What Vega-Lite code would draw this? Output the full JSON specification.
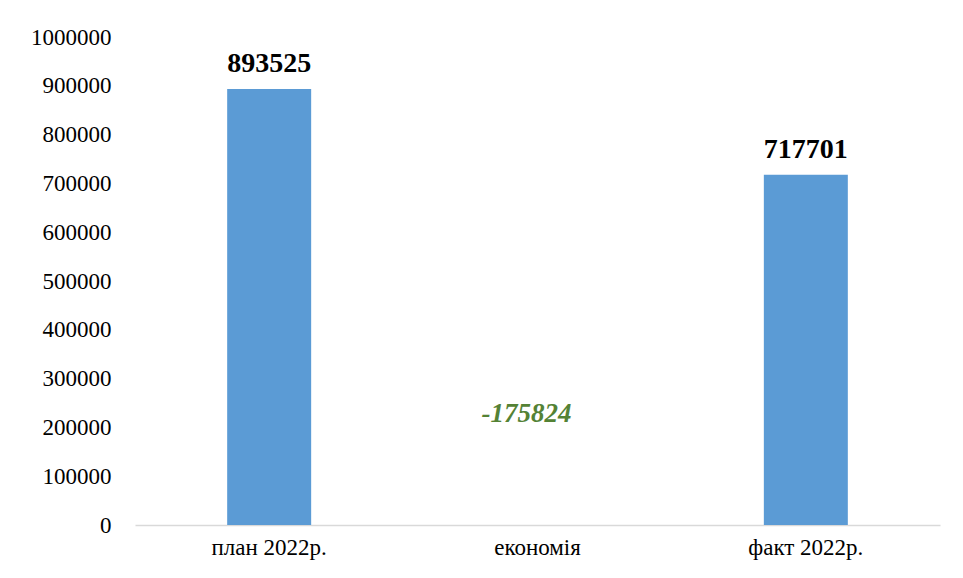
{
  "$schema": "https://vega.github.io/schema/vega-lite/v6.json",
  "width": 805,
  "height": 488,
  "autosize": {"type": "none"},
  "padding": {"left": 135, "top": 37, "right": 23, "bottom": 53},
  "background": "white",
  "config": {"view": {"stroke": null}, "font": "Liberation Serif"},
  "data": {
    "values": [
      {"category": "план 2022р.", "value": 893525, "kind": "bar"},
      {"category": "економія", "value": -175824, "kind": "diff"},
      {"category": "факт 2022р.", "value": 717701, "kind": "bar"}
    ]
  },
  "encoding": {
    "x": {
      "field": "category",
      "type": "nominal",
      "scale": {"domain": ["план 2022р.", "економія", "факт 2022р."], "paddingInner": 0.687, "paddingOuter": 0.3435},
      "axis": {
        "title": null,
        "labelAngle": 0,
        "labelFont": "Liberation Serif",
        "labelFontSize": 23,
        "labelColor": "black",
        "labelPadding": 11,
        "ticks": false,
        "domainColor": "#D9D9D9",
        "domainWidth": 1.5
      }
    }
  },
  "layer": [
    {
      "transform": [{"filter": "datum.kind == 'bar'"}],
      "mark": {"type": "bar", "color": "#5B9BD5"},
      "encoding": {
        "y": {
          "field": "value",
          "type": "quantitative",
          "scale": {"domain": [0, 1000000], "nice": false},
          "axis": {
            "title": null,
            "values": [0, 100000, 200000, 300000, 400000, 500000, 600000, 700000, 800000, 900000, 1000000],
            "format": "d",
            "grid": false,
            "domain": false,
            "ticks": false,
            "labelFont": "Liberation Serif",
            "labelFontSize": 23,
            "labelColor": "black",
            "labelPadding": 24
          }
        }
      }
    },
    {
      "transform": [{"filter": "datum.kind == 'bar'"}],
      "mark": {"type": "text", "font": "Liberation Serif", "fontSize": 28, "fontWeight": "bold", "color": "black", "baseline": "alphabetic", "dy": -17},
      "encoding": {
        "y": {"field": "value", "type": "quantitative"},
        "text": {"field": "value", "type": "nominal"}
      }
    },
    {
      "transform": [{"filter": "datum.kind == 'diff'"}],
      "mark": {"type": "text", "font": "Liberation Serif", "fontSize": 27, "fontWeight": "bold", "fontStyle": "italic", "color": "#548235", "baseline": "alphabetic", "dx": -11},
      "encoding": {
        "y": {"datum": 211000, "type": "quantitative"},
        "text": {"field": "value", "type": "nominal"}
      }
    }
  ]
}
